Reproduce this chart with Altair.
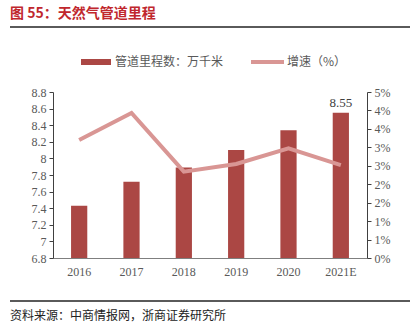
import altair as alt
import pandas as pd

years = ["2016", "2017", "2018", "2019", "2020", "2021E"]
mileage = [7.43, 7.72, 7.89, 8.10, 8.34, 8.55]
growth = [3.2, 3.93, 2.34, 2.55, 2.97, 2.52]

df = pd.DataFrame({"year": years, "mileage": mileage, "growth": [g / 100 for g in growth]})
last = df.tail(1)

BAR = "#AB4744"
LINE = "#D99694"
GRAY = "#595959"
SERIF = "Liberation Serif"
CJK = "Noto Sans CJK SC"

W, H = 314, 166

left_ticks = [6.8, 7.0, 7.2, 7.4, 7.6, 7.8, 8.0, 8.2, 8.4, 8.6, 8.8]
right_ticks = [0, 0.005, 0.01, 0.015, 0.02, 0.025, 0.03, 0.035, 0.04, 0.045]

x = alt.X("year:N", sort=years, title=None,
          scale=alt.Scale(paddingInner=0.69, paddingOuter=0.345),
          axis=alt.Axis(labelAngle=0, ticks=False, labelPadding=8, labelFont=SERIF,
                        labelFontSize=12, labelColor=GRAY, domainColor="#7f7f7f"))

yleft = alt.Y("mileage:Q", title=None,
              scale=alt.Scale(domain=[6.8, 8.8], nice=False, zero=False),
              axis=alt.Axis(values=left_ticks, format="~g", labelOverlap=False, tickCount=11,
                            grid=False, tickSize=4, tickColor="#404040", domainColor="#404040",
                            labelFont=SERIF, labelFontSize=12, labelColor=GRAY, labelPadding=3))

bars = alt.Chart(df).mark_bar(color=BAR).encode(x=x, y=yleft, y2=alt.datum(6.8))

label = alt.Chart(last).mark_text(dy=-10, font=SERIF, fontSize=13, color="#404040").encode(
    x=alt.X("year:N", sort=years),
    y=yleft,
    text=alt.Text("mileage:Q", format=".2f"),
)

line = alt.Chart(df).mark_line(color=LINE, strokeWidth=4).encode(
    x=alt.X("year:N", sort=years),
    y=alt.Y("growth:Q", title=None,
            scale=alt.Scale(domain=[0, 0.045], nice=False),
            axis=alt.Axis(orient="right", values=right_ticks, format=".0%", labelOverlap=False,
                          grid=False, tickSize=4, tickColor="#404040", domainColor="#404040",
                          labelFont=SERIF, labelFontSize=12, labelColor=GRAY, labelPadding=3)),
)

left_layer = alt.layer(bars, label)

title_df = pd.DataFrame({"t": ["图 55：天然气管道里程"]})
src_df = pd.DataFrame({"t": ["资料来源：中商情报网，浙商证券研究所"]})

title = alt.Chart(title_df).mark_text(align="left", baseline="middle",
                       font=CJK, fontSize=14, fontWeight="bold", color="#C0272D").encode(
    x=alt.value(-43), y=alt.value(-78), text="t:N")
source = alt.Chart(src_df).mark_text(align="left", baseline="middle",
                        font=CJK, fontSize=12, color="#222222").encode(
    x=alt.value(-43), y=alt.value(58 + H), text="t:N")

lb = alt.Chart(pd.DataFrame({"k": [0]}))

# separator lines drawn as short thin strips
seps = []
for y0 in (-66, 42 + H):
    for xs in (-43, 57, 157, 257):
        seps.append(lb.mark_rect(color="#5a5a5a").encode(
            x=alt.value(xs), x2=alt.value(xs + 100), y=alt.value(y0), y2=alt.value(y0 + 2)))

leg_bar = lb.mark_rect(color=BAR).encode(
    x=alt.value(28), x2=alt.value(58), y=alt.value(-33), y2=alt.value(-27))
leg_bar_t = lb.mark_text(text="管道里程数：万千米", align="left", baseline="middle",
                           font=CJK, fontSize=12, color=GRAY).encode(
    x=alt.value(62), y=alt.value(-30))
leg_line = lb.mark_rect(color=LINE).encode(
    x=alt.value(198), x2=alt.value(231), y=alt.value(-32), y2=alt.value(-28))
leg_line_t = lb.mark_text(text="增速（%）", align="left", baseline="middle",
                            font=CJK, fontSize=12, color=GRAY).encode(
    x=alt.value(234), y=alt.value(-30))

main = alt.layer(left_layer, line).resolve_scale(y="independent")

chart = alt.layer(main, title, source, *seps, leg_bar, leg_bar_t, leg_line, leg_line_t).properties(
    width=W, height=H,
    autosize=alt.AutoSizeParams(type="none"),
    padding={"left": 53, "top": 92, "right": 416 - 53 - W, "bottom": 329 - 92 - H},
    background="white",
).configure_view(stroke=None)

chart.save("out.html", embed_options={"renderer": "svg", "actions": False})
